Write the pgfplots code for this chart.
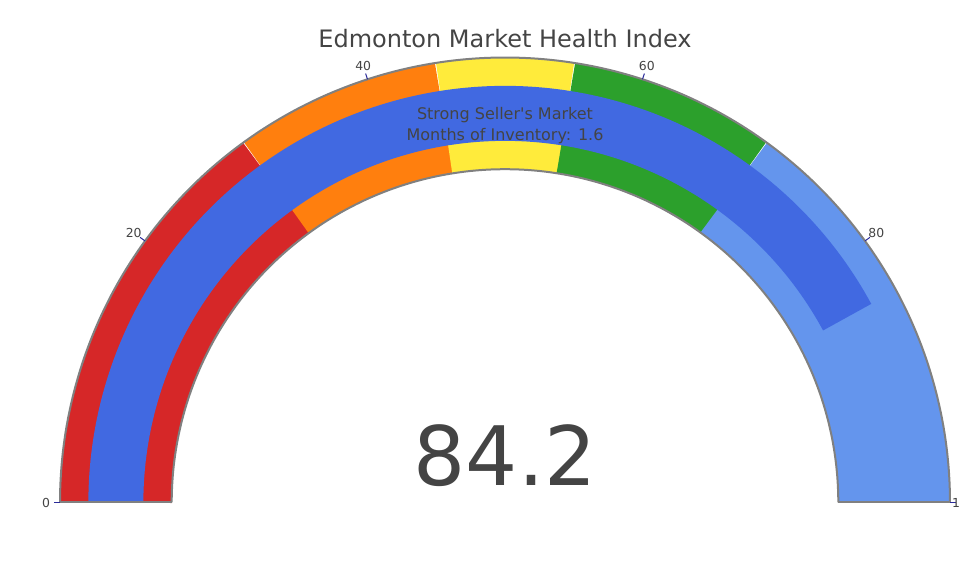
\documentclass[border=0pt]{standalone}
\usepackage{fontspec}
\setmainfont{DejaVu Sans}
\usepackage{pgfplots}
\pgfplotsset{compat=1.18}

\definecolor{txt}{HTML}{444444}
\definecolor{stepred}{HTML}{D62728}
\definecolor{steporange}{HTML}{FF7F0E}
\definecolor{stepyellow}{HTML}{FFEB3B}
\definecolor{stepgreen}{HTML}{2CA02C}
\definecolor{steplight}{HTML}{6495ED}
\definecolor{barblue}{HTML}{4169E1}
\definecolor{rim}{HTML}{808080}
\definecolor{tickc}{HTML}{2A2A9A}

% gauge geometry in pixel units: centre, ring radii
\def\cx{505}
\def\cy{73.5}
\def\rmid{389.15}

\begin{document}
\begin{tikzpicture}
\begin{axis}[
    scale only axis,
    width=480pt, height=288pt,
    xmin=0, xmax=960, ymin=0, ymax=576,
    hide axis,
    clip=false,
    trig format plots=deg,
    every axis plot/.append style={line cap=butt},
]
% steps (value ranges)
\addplot[stepred,    line width=55.85pt, domain=0:30,   samples=60] ({\cx+\rmid*cos(180-1.8*x)}, {\cy+\rmid*sin(180-1.8*x)});
\addplot[steporange, line width=55.85pt, domain=30:45,  samples=30] ({\cx+\rmid*cos(180-1.8*x)}, {\cy+\rmid*sin(180-1.8*x)});
\addplot[stepyellow, line width=55.85pt, domain=45:55,  samples=30] ({\cx+\rmid*cos(180-1.8*x)}, {\cy+\rmid*sin(180-1.8*x)});
\addplot[stepgreen,  line width=55.85pt, domain=55:70,  samples=30] ({\cx+\rmid*cos(180-1.8*x)}, {\cy+\rmid*sin(180-1.8*x)});
\addplot[steplight,  line width=55.85pt, domain=70:100, samples=60] ({\cx+\rmid*cos(180-1.8*x)}, {\cy+\rmid*sin(180-1.8*x)});
% value bar
\addplot[barblue, line width=27.5pt, domain=0:84.2, samples=160] ({\cx+\rmid*cos(180-1.8*x)}, {\cy+\rmid*sin(180-1.8*x)});
% border
\addplot[rim, line width=1pt, domain=0:100, samples=200] ({\cx+445*cos(180-1.8*x)}, {\cy+445*sin(180-1.8*x)});
\addplot[rim, line width=1pt, domain=0:100, samples=200] ({\cx+333.3*cos(180-1.8*x)}, {\cy+333.3*sin(180-1.8*x)});
\addplot[rim, line width=1pt] coordinates {(60,73.5) (171.7,73.5)};
\addplot[rim, line width=1pt] coordinates {(838.3,73.5) (950,73.5)};
% ticks and labels
\pgfplotsinvokeforeach{0,20,40,60,80,100}{
  \addplot[tickc, line width=0.5pt, domain=445:451, samples=2] ({\cx+x*cos(180-1.8*#1)}, {\cy+x*sin(180-1.8*#1)});
  \node[txt, font=\fontsize{6.2}{7}\selectfont, anchor=center]
    at (axis cs:{\cx+459*cos(180-1.8*#1)}, {\cy+459*sin(180-1.8*#1)}) {#1};
}
% texts
\node[txt, anchor=base, font=\fontsize{12}{14}\selectfont] at (axis cs:505,528) {Edmonton Market Health Index};
\node[txt, anchor=base, font=\fontsize{8}{9}\selectfont] at (axis cs:505,456) {Strong Seller\textquotesingle s Market};
\node[txt, anchor=base, font=\fontsize{8}{9}\selectfont] at (axis cs:505,435.5) {Months of Inventory: 1.6};
\node[txt, anchor=base, font=\fontsize{41}{45}\selectfont] at (axis cs:505,90) {84.2};
\coordinate (bl) at (axis cs:0,0);
\coordinate (tr) at (axis cs:960,576);
\end{axis}
\pgfresetboundingbox
\path[use as bounding box] (bl) rectangle (tr);
\end{tikzpicture}
\end{document}
